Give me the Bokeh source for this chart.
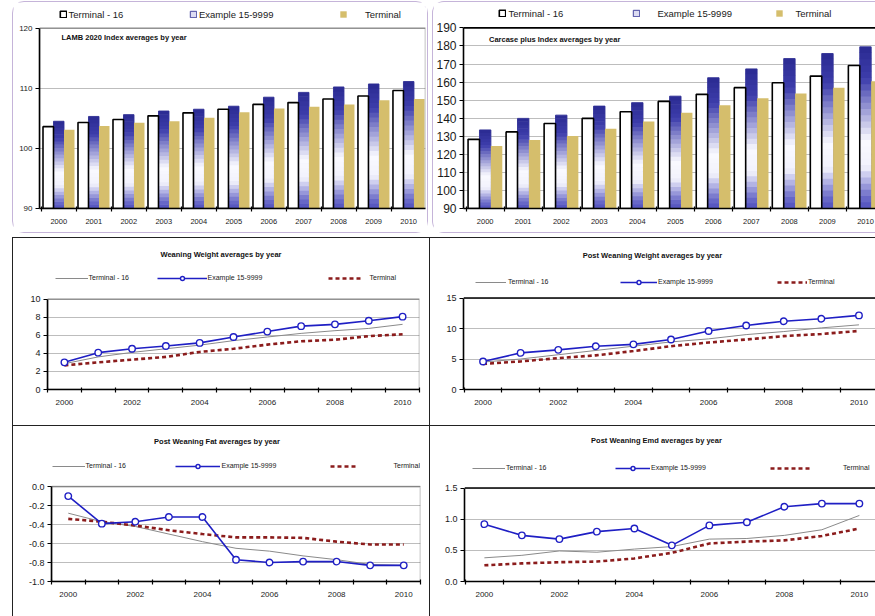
import numpy as np
from bokeh.plotting import figure
from bokeh.models import (Range1d, FixedTicker, Legend, LegendItem, Label, Span,
                          NumeralTickFormatter, ColumnDataSource, BoxAnnotation)
from bokeh.layouts import row, column
from bokeh.embed import file_html
from bokeh.resources import INLINE

FONT = "Liberation Sans"

years = [2000, 2001, 2002, 2003, 2004, 2005, 2006, 2007, 2008, 2009, 2010]
label_years = [2000, 2002, 2004, 2006, 2008, 2010]

# LAMB 2020 Index
lamb_t16 = [103.6, 104.3, 104.8, 105.4, 105.9, 106.5, 107.3, 107.6, 108.2, 108.7, 109.6]
lamb_ex = [104.5, 105.3, 105.6, 106.2, 106.5, 107.0, 108.5, 109.3, 110.2, 110.7, 111.1]
lamb_term = [103.1, 103.7, 104.25, 104.5, 105.1, 106.0, 106.6, 106.9, 107.3, 108.0, 108.2]
# Carcase plus Index
carc_t16 = [128.3, 132.4, 137.1, 139.9, 143.6, 149.3, 153.2, 156.9, 159.6, 163.3, 169.2]
carc_ex = [133.5, 139.9, 141.7, 146.7, 148.6, 152.2, 162.4, 167.3, 173.0, 175.8, 179.5]
carc_term = [124.6, 127.9, 130.1, 134.2, 138.2, 143.0, 147.1, 151.1, 153.7, 156.9, 160.5]
# Weaning Weight
ww_t16 = [2.85, 3.6, 4.1, 4.5, 4.9, 5.4, 5.8, 6.2, 6.5, 6.75, 7.2]
ww_ex = [3.0, 4.07, 4.5, 4.8, 5.15, 5.8, 6.4, 7.0, 7.2, 7.6, 8.05]
ww_term = [2.67, 3.0, 3.3, 3.6, 4.15, 4.5, 4.96, 5.33, 5.5, 5.9, 6.1]
# Post Weaning Weight
pww_t16 = [4.5, 5.0, 5.7, 6.4, 7.1, 7.8, 8.3, 9.0, 9.5, 10.1, 10.6]
pww_ex = [4.6, 6.0, 6.5, 7.1, 7.4, 8.2, 9.6, 10.5, 11.2, 11.6, 12.15]
pww_term = [4.2, 4.6, 5.15, 5.6, 6.3, 7.1, 7.7, 8.2, 8.75, 9.1, 9.6]
# Post Weaning Fat
pwf_t16 = [-0.28, -0.37, -0.42, -0.50, -0.58, -0.65, -0.68, -0.73, -0.77, -0.82, -0.83]
pwf_ex = [-0.10, -0.39, -0.37, -0.32, -0.32, -0.77, -0.80, -0.79, -0.79, -0.83, -0.83]
pwf_term = [-0.34, -0.37, -0.41, -0.46, -0.50, -0.535, -0.535, -0.54, -0.58, -0.61, -0.61]
# Post Weaning Emd
pwe_t16 = [0.38, 0.42, 0.49, 0.47, 0.52, 0.56, 0.68, 0.69, 0.74, 0.83, 1.06]
pwe_ex = [0.92, 0.74, 0.68, 0.80, 0.85, 0.58, 0.90, 0.95, 1.20, 1.25, 1.25]
pwe_term = [0.26, 0.29, 0.31, 0.32, 0.37, 0.46, 0.61, 0.64, 0.66, 0.73, 0.85]

names = ["Terminal - 16", "Example 15-9999", "Terminal"]

STOPS = [(0.0, (42, 42, 145)), (0.2, (62, 62, 172)), (0.58, (250, 250, 255)),
         (0.74, (242, 242, 252)), (0.92, (112, 112, 202)), (1.0, (80, 80, 190))]


def grad_color(t):
    for (t0, c0), (t1, c1) in zip(STOPS[:-1], STOPS[1:]):
        if t0 <= t <= t1:
            f = (t - t0) / (t1 - t0)
            c = [int(round(a + (b - a) * f)) for a, b in zip(c0, c1)]
            return "#%02x%02x%02x" % tuple(c)
    return "#%02x%02x%02x" % STOPS[-1][1]


def blue_slices(xs, tops, base, n=26):
    X, B, T, C = [], [], [], []
    for x, top in zip(xs, tops):
        h = top - base
        for k in range(n):
            y0 = base + h * k / n
            y1 = base + h * (k + 1) / n
            if k < n - 1:
                y1 += h * 0.006
            X.append(x); B.append(y0); T.append(y1)
            C.append(grad_color(1 - (k + 0.5) / n))
    return ColumnDataSource(dict(x=X, bottom=B, top=T, color=C))


def add_legend(p, renderers, label, x, y, gw, gh, standoff, fs):
    lg = Legend(items=[LegendItem(label=label, renderers=renderers)], location=(x, y),
                orientation="horizontal", padding=0, margin=0, spacing=0,
                glyph_width=gw, glyph_height=gh, label_standoff=standoff,
                label_height=gh, label_width=10, label_text_font=FONT,
                label_text_font_size=fs, label_text_color="#1a1a1a",
                background_fill_alpha=0, border_line_alpha=0)
    p.add_layout(lg)


def base_fig(w, h, xr, yr, head, mb, margin, styles):
    # y range is extended upward so the heading row (title/legend) lies in the frame
    ymin, ymax = yr
    ext_px, plot_px = head
    ytop = ymax + (ymax - ymin) * ext_px / plot_px
    p = figure(width=w, height=h, x_range=Range1d(*xr), y_range=Range1d(ymin, ytop),
               output_backend="svg", toolbar_location=None, title=None,
               min_border_left=mb[0], min_border_right=mb[1],
               min_border_top=mb[2], min_border_bottom=mb[3])
    p.margin = margin
    p.styles = styles
    p.background_fill_color = "white"
    p.border_fill_color = "white"
    p.outline_line_color = None
    p.xgrid.grid_line_color = None
    p.ygrid.grid_line_color = "#bdbdbd"
    p.ygrid.grid_line_width = 1
    for ax in (p.xaxis[0], p.yaxis[0]):
        ax.axis_line_color = "black"
        ax.axis_line_width = 1.6
        ax.major_label_text_font = FONT
        ax.major_label_text_color = "#1a1a1a"
        ax.minor_tick_line_color = "black"
        ax.major_tick_line_color = "black"
        ax.major_tick_line_width = 1.2
        ax.minor_tick_line_width = 1.2
    p.yaxis.bounds = (ymin, ymax)
    return p


def set_axes(p, xticks, yticks, xfs, yfs, xstand, ystand, yfmt=None):
    minor = [y - 0.5 for y in years] + [years[-1] + 0.5]
    p.xaxis.ticker = FixedTicker(ticks=xticks, minor_ticks=minor)
    p.xaxis.major_tick_out = 0
    p.xaxis.major_tick_in = 0
    p.xaxis.minor_tick_out = 3
    p.xaxis.minor_tick_in = 2
    p.xaxis.major_label_text_font_size = xfs
    p.xaxis.major_label_standoff = xstand
    yt = FixedTicker(ticks=yticks, minor_ticks=[])
    p.yaxis.ticker = yt
    p.ygrid.ticker = yt
    p.yaxis.major_tick_out = 4
    p.yaxis.major_tick_in = 0
    p.yaxis.minor_tick_out = 0
    p.yaxis.minor_tick_in = 0
    p.yaxis.major_label_text_font_size = yfs
    p.yaxis.major_label_standoff = ystand
    if yfmt:
        p.yaxis.formatter = NumeralTickFormatter(format=yfmt)


def plot_box(p, yr, left_panel):
    if left_panel:
        p.add_layout(BoxAnnotation(bottom=yr[0], top=yr[1], fill_alpha=0,
                                   line_color="black", line_width=1.6))
    else:
        p.add_layout(Span(location=yr[1], dimension="width", line_color="black",
                          line_width=1.6))


def bar_panel(w, h, margin, styles, xr, yr, head, yticks, t16, ex, term, mb, yfs,
              title, toff, legs, left_panel):
    p = base_fig(w, h, xr, yr, head, mb, margin, styles)
    x = np.array(years, dtype=float)
    base = yr[0]
    r_ex = p.vbar(x=x, width=0.3, bottom=base, top=ex, fill_color="#dcdcf2",
                  line_color="#45459e", line_width=1)
    p.vbar(x="x", width=0.3, bottom="bottom", top="top", fill_color="color",
           line_color=None, source=blue_slices(x, ex, base))
    r_term = p.vbar(x=x + 0.3, width=0.3, bottom=base, top=term,
                    fill_color="#d5be6c", line_color=None)
    r_t16 = p.vbar(x=x - 0.3, width=0.3, bottom=base, top=t16, fill_color="white",
                   line_color="black", line_width=1.6)
    set_axes(p, years, yticks, "7.5px", yfs, 7, 3)
    plot_box(p, yr, left_panel)
    p.add_layout(Label(x=xr[0], y=yr[1], x_offset=toff[0], y_offset=toff[1], text=title,
                       text_font=FONT, text_font_size="7.5px", text_font_style="bold",
                       text_align="left", text_baseline="middle", text_color="#111"))
    rends = [[r_t16], [r_ex], [r_term]]
    for rr, nm, (lx, ly, st) in zip(rends, names, legs):
        add_legend(p, rr, nm, lx, ly, 8, 8, st, "9.5px")
    return p


def line_panel(w, h, margin, styles, xr, yr, head, yticks, yfmt, t16, ex, term, mb,
               title, toff, legs, left_panel):
    p = base_fig(w, h, xr, yr, head, mb, margin, styles)
    r_t16 = p.line(years, t16, line_color="#8a8a8a", line_width=1)
    r_term = p.line(years, term, line_color="#8b1c1c", line_width=2.6, line_dash="4 3")
    r_exl = p.line(years, ex, line_color="#1f1fc4", line_width=1.6)
    r_exm = p.scatter(years, ex, marker="circle", size=6.5, fill_color="white",
                      line_color="#1f1fc4", line_width=1.4)
    set_axes(p, label_years, yticks, "8px", "9px", 7, 3, yfmt)
    plot_box(p, yr, left_panel)
    p.add_layout(Label(x=xr[0], y=yr[1], x_offset=toff[0], y_offset=toff[1], text=title,
                       text_font=FONT, text_font_size="7.5px", text_font_style="bold",
                       text_align="center", text_baseline="middle", text_color="#111"))
    rends = [[r_t16], [r_exl, r_exm], [r_term]]
    for rr, nm, (lx, ly, gw, st) in zip(rends, names, legs):
        add_legend(p, rr, nm, lx, ly, gw, 10, st, "7px")
    return p


TOP_L = {"border": "1.5px solid #c5b4d9", "border-radius": "12px"}
TOP_R = {"border": "1.5px solid #c5b4d9", "border-right": "none",
         "border-radius": "12px 0 0 12px"}
LOW_L = {"border-left": "1.5px solid #222", "border-top": "1.5px solid #222",
         "border-right": "1.5px solid #222"}
LOW_R = {"border-top": "1.5px solid #222"}

p1 = bar_panel(416, 232, (1, 0, 4, 12), TOP_L, (1999.45, 2010.48), (90, 120), (21.5, 180.5),
               [90, 100, 110, 120], lamb_t16, lamb_ex, lamb_term, (26, 4, 4, 26), "8px",
               "LAMB 2020  Index averages by year", (22, -9),
               [(19.5, 188.5, 2), (150, 188.5, 2), (300, 188.5, 18)], True)
p2 = bar_panel(443, 232, (1, 0, 4, 4), TOP_R, (1999.43, 2010.29), (90, 190), (21.5, 181.5),
               list(range(90, 200, 10)), carc_t16, carc_ex, carc_term, (30, 0, 4, 25),
               "12px", "Carcase plus  Index averages by year", (25.5, -12),
               [(34.5, 189.5, 3), (168.5, 189.5, 18), (311.5, 189.5, 13)], False)

p3 = line_panel(418, 188, (0, 0, 0, 12), LOW_L, (1999.5, 2010.5), (0, 10), (54.5, 90.5),
                [0, 2, 4, 6, 8, 10], None, ww_t16, ww_ex, ww_term, (34, 12, 6, 37),
                "Weaning Weight  averages by year", (174.5, 45),
                [(7.5, 106.5, 33, 1), (109.5, 106.5, 50, 1), (280.5, 106.5, 35, 7)], True)
p4 = line_panel(445, 188, (0, 0, 0, 0), LOW_R, (1999.48, 2010.44), (0, 15), (53.5, 91.5),
                [0, 5, 10, 15], None, pww_t16, pww_ex, pww_term, (33, 0, 6, 37),
                "Post Weaning Weight  averages by year", (190, 43),
                [(12, 102.5, 31, 2), (157, 102.5, 37, 1), (314, 102.5, 30, 1)], False)
p5 = line_panel(418, 191, (0, 0, 0, 12), LOW_L, (1999.5, 2010.5), (-1.0, 0.0), (54.5, 95.5),
                [-1.0, -0.8, -0.6, -0.4, -0.2, 0.0], "0.0", pwf_t16, pwf_ex, pwf_term,
                (38, 11, 6, 35), "Post Weaning Fat  averages by year", (166.5, 45),
                [(0.5, 110.5, 33, 1), (123.5, 110.5, 45, 2), (278.5, 110.5, 28, 36)], True)
p6 = line_panel(445, 191, (0, 0, 0, 0), LOW_R, (1999.47, 2010.43), (0.0, 1.5), (55.5, 93.5),
                [0.0, 0.5, 1.0, 1.5], "0.0", pwe_t16, pwe_ex, pwe_term, (34, 0, 6, 36),
                "Post Weaning Emd  averages by year", (193, 48),
                [(8, 108.5, 33, 1), (151, 108.5, 35, 1), (306, 108.5, 40, 33)], False)

layout = column(row(p1, p2), row(p3, p4), row(p5, p6))
open("out.html", "w").write(file_html(layout, INLINE))
